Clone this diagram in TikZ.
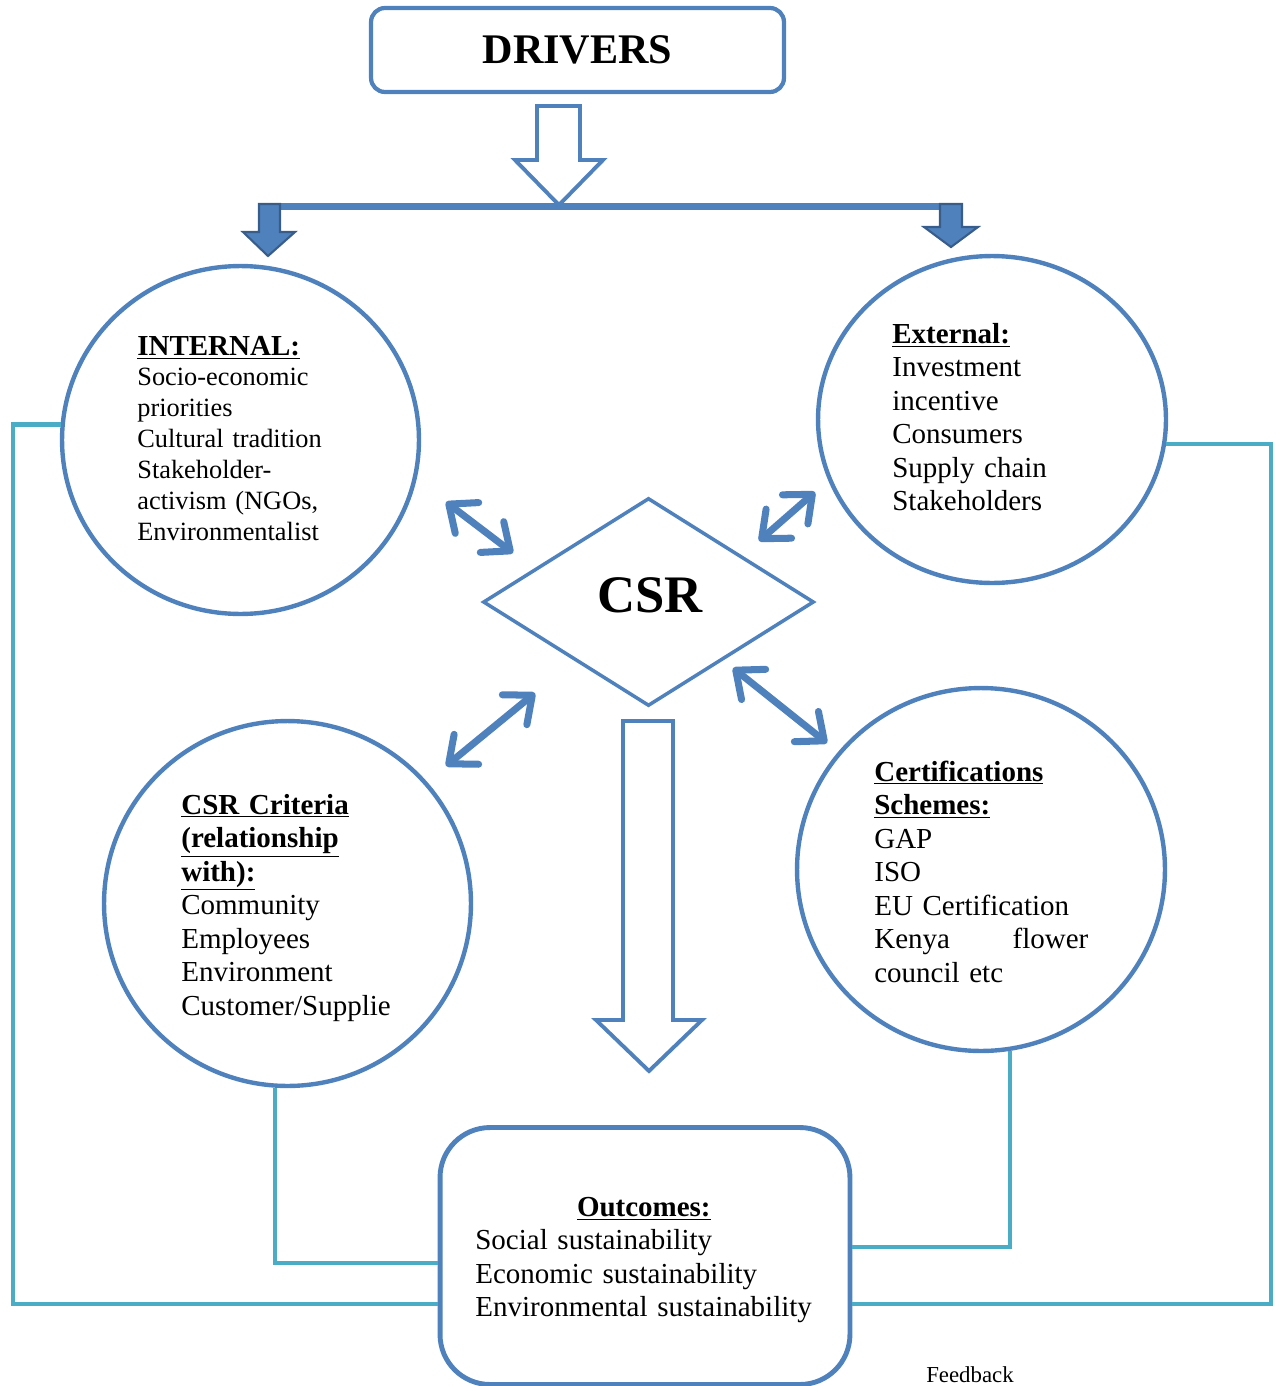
\documentclass[tikz,border=0pt]{standalone}
\usepackage{fontspec}
\setmainfont{Liberation Serif}
\usetikzlibrary{positioning,shapes.geometric,arrows.meta}
\definecolor{csrblue}{HTML}{4F81BD}
\definecolor{csrnavy}{HTML}{385D8A}
\definecolor{csrteal}{HTML}{4BACC6}

\begin{document}
\begin{tikzpicture}[x=0.02cm, y=-0.02cm,
  bubble/.style={ellipse, draw=csrblue, line width=2.5pt, inner sep=0pt},
  bodytxt/.style={anchor=base west, inner sep=0pt, align=left, text width=4.6cm, font=\fontsize{16.5}{19.1}\selectfont},
  fbline/.style={draw=csrteal, line width=2.3pt},
  twoway/.style={draw=csrblue, line width=4pt, <->, >={Straight Barb[round,length=13pt,width=22pt]}},
  hollowarrow/.style={draw=csrblue, fill=white, line width=2.2pt, line join=miter},
  solidarrow/.style={draw=csrnavy, fill=csrblue, line width=1.2pt},
]
\useasboundingbox (0,0) rectangle (1275,1386);

% Drivers box and the split below it
\node[draw=csrblue, line width=2.4pt, rounded corners=0.28cm, minimum width=8.26cm, minimum height=1.68cm,
  font=\fontsize{24}{28}\selectfont\bfseries] (drivers) at (577.5,50) {DRIVERS};
\draw[hollowarrow] (537,106) -- (580,106) -- (580,160) -- (603,160) -- (559,205) -- (515,160) -- (537,160) -- cycle;
\draw[csrblue, line width=4pt] (258,206.5) -- (963,206.5);
\draw[solidarrow] (259,204) -- (280,204) -- (280,232) -- (295,232) -- (268,256) -- (243,232) -- (259,232) -- cycle;
\draw[solidarrow] (940,204) -- (962,204) -- (962,227) -- (978,227) -- (951,247) -- (924,227) -- (940,227) -- cycle;

% Four circles round the CSR diamond
\node[bubble, minimum width=7.14cm, minimum height=6.96cm] (internal) at (240.5,440) {};
\node[bubble, minimum width=6.96cm, minimum height=6.54cm] (external) at (992,419.5) {};
\node[bubble, minimum width=7.34cm, minimum height=7.30cm] (criteria) at (287.5,903.5) {};
\node[bubble, minimum width=7.36cm, minimum height=7.26cm] (certs) at (981,869.5) {};

\node[diamond, draw=csrblue, line width=2pt, minimum width=6.62cm, minimum height=4.16cm, inner sep=0pt] (csr) at (648.5,602) {};
\node[font=\fontsize{30}{34}\selectfont\bfseries] (csrtext) at (650,595) {CSR};

\draw[hollowarrow] (623,721) -- (673,721) -- (673,1020) -- (702,1020) -- (649,1071) -- (596,1020) -- (623,1020) -- cycle;

% Two-way arrows between circles and diamond
\coordinate (intend) at (446,502);  \coordinate (csrnw) at (513,553);
\coordinate (csrne) at (759,541);   \coordinate (extend) at (815,492);
\coordinate (critend) at (446,766); \coordinate (csrsw) at (535,693);
\coordinate (csrse) at (733,668);   \coordinate (certend) at (827,743);
\draw[twoway] (intend) -- (csrnw);
\draw[twoway] (csrne) -- (extend);
\draw[twoway] (critend) -- (csrsw);
\draw[twoway] (csrse) -- (certend);

% Outcomes box and feedback lines
\coordinate (fbleft) at (13,1304);
\coordinate (fbright) at (1271,1304);
\coordinate (fbinl) at (274,1263);
\coordinate (fbinr) at (1010,1247);
\node[draw=csrblue, line width=2.8pt, rounded corners=1cm, minimum width=8.2cm, minimum height=5.14cm] (outcomes) at (645,1256) {};
\draw[fbline, line width=2.6pt] (internal.175) -| (fbleft) -- (fbleft -| outcomes.west);
\draw[fbline, line width=2.6pt] (external.352) -| (fbright) -- (fbright -| outcomes.east);
\draw[fbline] (criteria.266) |- (fbinl -| outcomes.west);
\draw[fbline] (certs.279) |- (fbinr -| outcomes.east);

% Texts
\node[bodytxt, font=\fontsize{15}{17.57}\selectfont] (internaltxt) at (137,355)
  {{\fontsize{16.5}{17.57}\selectfont\underline{\textbf{INTERNAL:}}}\\Socio-economic\\priorities\\Cultural tradition\\Stakeholder-\\activism (NGOs,\\Environmentalist};
\node[bodytxt] (externaltxt) at (892,343)
  {\underline{\textbf{External:}}\\Investment\\incentive\\Consumers\\Supply chain\\Stakeholders};
\node[bodytxt] (criteriatxt) at (181,814)
  {\underline{\textbf{CSR Criteria}}\\\underline{\textbf{(relationship}}\\\underline{\textbf{with):}}\\Community\\Employees\\Environment\\Customer/Supplie};
\node[bodytxt, text width=4.28cm] (certstxt) at (874,781)
  {\underline{\textbf{Certifications}}\\\underline{\textbf{Schemes:}}\\GAP\\ISO\\EU Certification\\Kenya\hfill flower\\council etc};
\node[bodytxt, text width=7.2cm] (outcomestxt) at (475,1216)
  {\makebox[6.74cm]{\underline{\textbf{Outcomes:}}}\\Social sustainability\\Economic sustainability\\Environmental sustainability};
\node[font=\fontsize{13}{15}\selectfont] (fblabel) at (970,1375) {Feedback};
\end{tikzpicture}
\end{document}
